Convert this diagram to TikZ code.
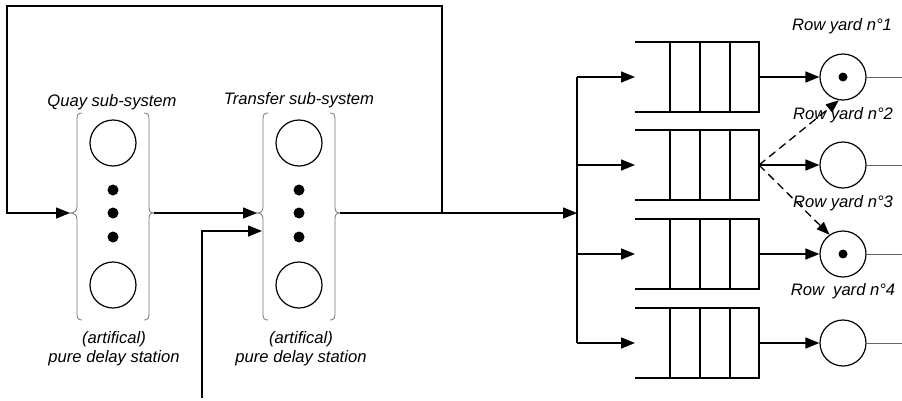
\documentclass[tikz,border=0pt]{standalone}
\usepackage{fontspec}
\setmainfont{Liberation Sans}
\usetikzlibrary{arrows.meta}
\tikzset{
  conn/.style={line width=1.5pt, -{Triangle[length=14pt,width=11pt]}},
  plain/.style={line width=1.5pt},
  dashconn/.style={line width=1.3pt, dash pattern=on 8pt off 5pt, -{Triangle[length=13pt,width=10pt]}},
  server/.style={circle, draw, line width=1.2pt, minimum size=46pt, inner sep=0pt},
  bigdot/.style={circle, fill, minimum size=11pt, inner sep=0pt},
  smalldot/.style={circle, fill, minimum size=9pt, inner sep=0pt},
  lbl/.style={font=\fontsize{16.6}{19}\selectfont\itshape, inner sep=0pt},
  brace/.style={draw=black!55, line width=0.8pt},
  qline/.style={line width=1.3pt},
  outline/.style={draw=black!60, line width=0.8pt}
}
\begin{document}
\begin{tikzpicture}[x=1pt,y=-1pt]
\useasboundingbox (0,0) rectangle (902,400);

% ---------- Quay sub-system ----------
\node[server] (q1) at (113,143) {};
\node[server] (q2) at (113,285) {};
\node[bigdot] (qd1) at (113,190) {};
\node[bigdot] (qd2) at (113,213) {};
\node[bigdot] (qd3) at (113,237) {};
\coordinate (qin) at (70,213);
\coordinate (qout) at (154,213);
\draw[brace] (82,113) .. controls (78,113) and (77,115) .. (77,119) -- (77,207)
  .. controls (77,211) and (74,213) .. (70,213) .. controls (74,213) and (77,215) .. (77,219)
  -- (77,314) .. controls (77,318) and (78,320) .. (82,320);
\draw[brace] (144,113) .. controls (148,113) and (149,115) .. (149,119) -- (149,207)
  .. controls (149,211) and (150,213) .. (154,213) .. controls (150,213) and (149,215) .. (149,219)
  -- (149,314) .. controls (149,318) and (148,320) .. (144,320);
\node[lbl] (qlab) at (112,102) {Quay sub-system};
\node[lbl, align=center] (qlab2) at (114,349) {(artifical)\\pure delay station};

% ---------- Transfer sub-system ----------
\node[server] (t1) at (299,143) {};
\node[server] (t2) at (299,285) {};
\node[bigdot] (td1) at (299,190) {};
\node[bigdot] (td2) at (299,213) {};
\node[bigdot] (td3) at (299,237) {};
\coordinate (tin) at (257,213);
\coordinate (tin2) at (262,231);
\coordinate (tout) at (340,213);
\draw[brace] (268,113) .. controls (264,113) and (263,115) .. (263,119) -- (263,207)
  .. controls (263,211) and (261,213) .. (257,213) .. controls (261,213) and (263,215) .. (263,219)
  -- (263,314) .. controls (263,318) and (264,320) .. (268,320);
\draw[brace] (330,113) .. controls (334,113) and (335,115) .. (335,119) -- (335,207)
  .. controls (335,211) and (336,213) .. (340,213) .. controls (336,213) and (335,215) .. (335,219)
  -- (335,314) .. controls (335,318) and (334,320) .. (330,320);
\node[lbl] (tlab) at (299,100) {Transfer sub-system};
\node[lbl, align=center] (tlab2) at (301,349) {(artifical)\\pure delay station};

% ---------- connectors on the left ----------
\coordinate (loopA) at (442,213);
\coordinate (loopB) at (442,6);
\coordinate (loopC) at (7,6);
\coordinate (loopD) at (7,213);
\draw[conn] (loopA) -- (loopB) -- (loopC) -- (loopD) -- (qin);
\draw[conn] (qout) -- (tin);
\coordinate (ext) at (202,398);
\draw[conn] (ext) |- (tin2);
\coordinate (bus) at (577,213);
\draw[conn] (tout) -- (bus);

% ---------- queues ----------
\foreach \i/\y in {1/77,2/165,3/254,4/343}{
  \coordinate (qin\i) at (635,\y);
  \coordinate (qend\i) at (759,\y);
  \draw[qline] (635,\y-35) -- (759,\y-35) -- (759,\y+35) -- (635,\y+35);
  \draw[qline] (670,\y-35) -- (670,\y+35);
  \draw[qline] (700,\y-35) -- (700,\y+35);
  \draw[qline] (730,\y-35) -- (730,\y+35);
  \node[server] (s\i) at (843,\y) {};
  \coordinate (out\i) at (902,\y);
  \draw[outline] (s\i.east) -- (out\i);
  \draw[conn] (qend\i) -- (s\i.west);
}
\coordinate (busT) at (577,77);
\coordinate (busB) at (577,343);
\draw[plain] (busT) -- (busB);
\draw[conn] (busT) -- (qin1);
\draw[conn] (577,165) -- (qin2);
\draw[conn] (577,254) -- (qin3);
\draw[conn] (busB) -- (qin4);

\node[smalldot] (sd1) at (s1) {};
\node[smalldot] (sd3) at (s3) {};

\draw[dashconn] (qend2) -- (s1.-100);
\draw[dashconn] (qend2) -- (s3.125);

\node[lbl] (r1) at (842,26) {Row yard n°1};
\node[lbl] (r2) at (843,115) {Row yard n°2};
\node[lbl] (r3) at (843,203) {Row yard n°3};
\node[lbl] (r4) at (843,291) {Row\ \ yard n°4};
\end{tikzpicture}
\end{document}
